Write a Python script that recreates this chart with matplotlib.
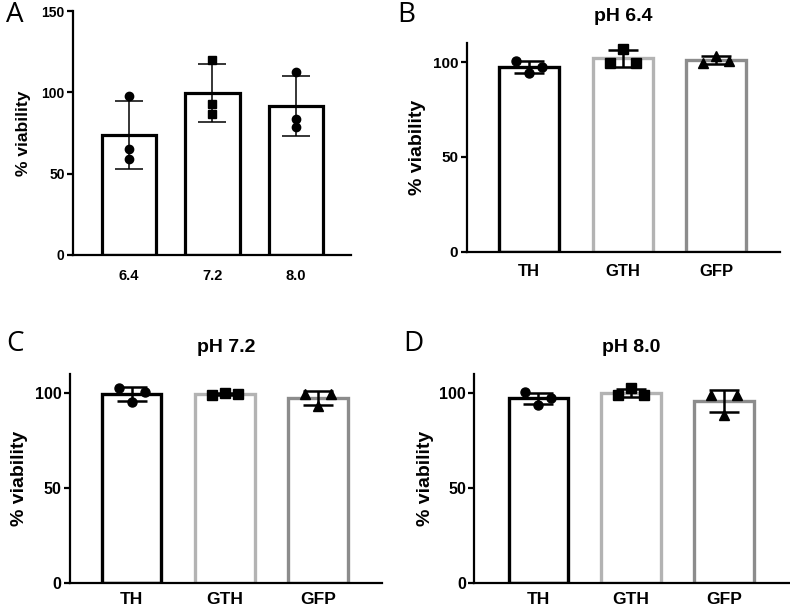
import numpy as np
import matplotlib
matplotlib.use('Agg')
import matplotlib.pyplot as plt

plt.rcParams['font.family'] = ['Liberation Sans', 'DejaVu Sans']

# panel A: viability per pH
ph_labels = ['6.4', '7.2', '8.0']
ph_means = [73.8, 99.8, 91.5]
ph_sd = [21.0, 17.8, 18.5]
ph_points = [[97.5, 65.0, 58.8], [119.9, 92.6, 86.9], [112.5, 83.4, 78.5]]

# panels B-D: viability per construct at each pH
groups = ['TH', 'GTH', 'GFP']
titles = ['pH 6.4', 'pH 7.2', 'pH 8.0']
means_64 = [97.5, 102.0, 101.2]
sd_64 = [3.0, 4.3, 2.1]
pts_64 = [[100.5, 94.5, 97.5], [99.5, 107.0, 99.5], [99.6, 103.2, 100.7]]
means_72 = [99.4, 99.3, 97.5]
sd_72 = [3.5, 0.5, 3.7]
pts_72 = [[102.5, 95.5, 100.5], [99.0, 100.0, 99.3], [99.3, 93.2, 99.3]]
means_80 = [97.2, 100.2, 95.8]
sd_80 = [2.9, 2.1, 6.0]
pts_80 = [[100.5, 93.5, 97.5], [99.0, 102.5, 99.0], [99.0, 88.5, 99.0]]

edge_cols = ['black', '#b3b3b3', '#8c8c8c']
markers = ['o', 's', '^']


def style(ax, xpad=10, xfs=10.5, yfs=10):
    for s in ['top', 'right']:
        ax.spines[s].set_visible(False)
    for s in ['left', 'bottom']:
        ax.spines[s].set_linewidth(1.6)
    ax.tick_params(axis='x', length=0, pad=xpad)
    ax.tick_params(axis='y', length=4, width=1.6, pad=2)
    for lab in ax.get_xticklabels():
        lab.set_fontweight('bold')
        lab.set_fontsize(xfs)
    for lab in ax.get_yticklabels():
        lab.set_fontweight('bold')
        lab.set_fontsize(yfs)


fig = plt.figure(figsize=(7.9, 6.08), dpi=100)

# --- A ---
ax = fig.add_axes([0.0924, 0.5806, 0.3519, 0.4013])
x = np.arange(len(ph_labels))
ax.bar(x, ph_means, width=0.65, color='white', edgecolor='black',
       linewidth=2.3, zorder=1)
ax.errorbar(x, ph_means, yerr=ph_sd, fmt='none', ecolor='black',
            elinewidth=1.1, capsize=10, capthick=1.1, zorder=2)
for i, pts in enumerate(ph_points):
    ax.plot([x[i]] * len(pts), pts, ls='none', marker='o' if i != 1 else 's',
            ms=6, color='black', zorder=3)
ax.set_xlim(-0.67, 2.66)
ax.set_ylim(0, 150)
ax.set_yticks([0, 50, 100, 150])
ax.set_xticks(x)
ax.set_xticklabels(ph_labels)
ax.set_ylabel('% viability', fontsize=12.5, fontweight='bold')
ax.yaxis.set_label_coords(-0.151, 0.5)
style(ax)

# --- B-D ---
rects = [[0.5907, 0.586, 0.3966, 0.3428],
         [0.0886, 0.0406, 0.3946, 0.3443],
         [0.6004, 0.0406, 0.3983, 0.3443]]
ylab_x = [-0.129, -0.135, -0.127]
xlims = [(-0.67, 2.68), (-0.66, 2.68), (-0.69, 2.70)]
xpads = [9, 6, 6]
xfs = [12, 12.5, 12.5]
yfs = [11, 11.5, 11.5]
data = [(means_64, sd_64, pts_64), (means_72, sd_72, pts_72),
        (means_80, sd_80, pts_80)]
for k, (m, sd, pts) in enumerate(data):
    ax = fig.add_axes(rects[k])
    x = np.arange(len(groups))
    for i in range(len(groups)):
        ax.bar(x[i], m[i], width=0.64, color='white', edgecolor=edge_cols[i],
               linewidth=2.4, zorder=1)
    ax.errorbar(x, m, yerr=sd, fmt='none', ecolor='black', elinewidth=1.8,
                capsize=11, capthick=1.8, zorder=2)
    for i in range(len(groups)):
        off = np.array([-0.14, 0.0, 0.14])
        ax.plot(x[i] + off, pts[i], ls='none', marker=markers[i], ms=6.5,
                color='black', zorder=3)
    ax.set_xlim(*xlims[k])
    ax.set_ylim(0, 110)
    ax.set_yticks([0, 50, 100])
    ax.set_xticks(x)
    ax.set_xticklabels(groups)
    ax.set_ylabel('% viability', fontsize=14, fontweight='bold')
    ax.yaxis.set_label_coords(ylab_x[k], 0.5)
    ax.set_title(titles[k], fontsize=14, fontweight='bold', pad=16)
    style(ax, xpads[k], xfs=xfs[k], yfs=yfs[k])

# panel letters
for lx, ly, t in [(0.008, 0.975, 'A'), (0.503, 0.975, 'B'),
                  (0.008, 0.434, 'C'), (0.510, 0.434, 'D')]:
    fig.text(lx, ly, t, fontsize=20, family=['Open Sans', 'DejaVu Sans'],
             ha='left', va='center')

fig.savefig('out.png', dpi=100)
